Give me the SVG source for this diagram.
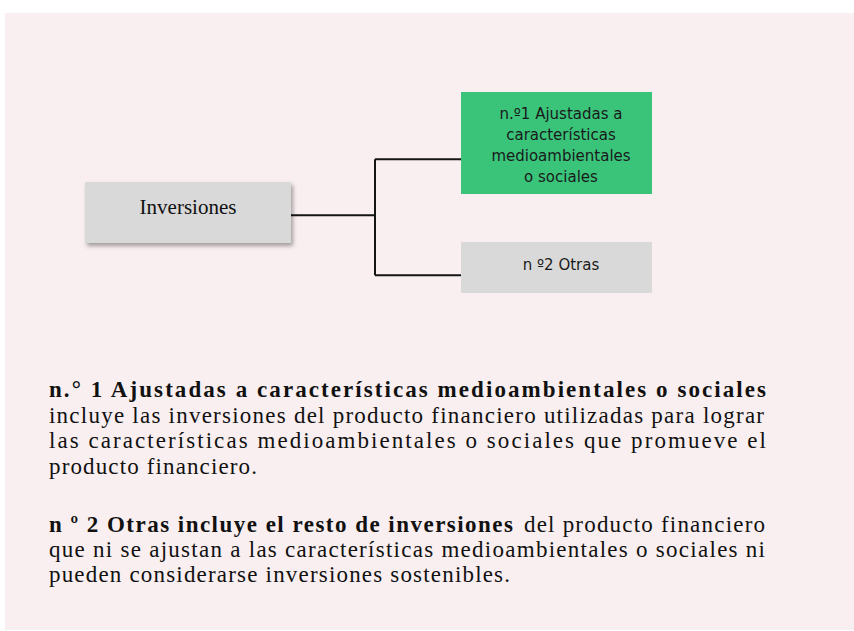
<svg xmlns="http://www.w3.org/2000/svg" width="854" height="631" viewBox="0 0 854 631">
<style>
.sans{font-family:"DejaVu Sans","Verdana",sans-serif;font-size:15px;fill:#1a1a1a;text-anchor:middle}
.serif{font-family:"Liberation Serif","Times New Roman",serif;font-size:21px;fill:#111}
.body{font-size:23px}
.b{font-weight:bold}
.conn{stroke:#151515;stroke-width:2;fill:none}
</style>
<defs>
<filter id="sh" x="-10%" y="-20%" width="125%" height="150%">
<feDropShadow dx="2" dy="3" stdDeviation="2" flood-color="#000" flood-opacity="0.35"/>
</filter>
</defs>
<rect x="0" y="0" width="854" height="631" fill="#ffffff"/>
<rect x="5" y="13" width="849" height="617" fill="#f9eff0"/>
<g id="connectors">
<path class="conn" d="M291 215.3 H375 M375 159.3 V275.3 M375 159.3 H461 M375 275.3 H461"/>
</g>
<g id="node-inversiones">
<rect x="85" y="182" width="206" height="61" fill="#d9d9d9" filter="url(#sh)"/>
<text class="serif" x="188" y="214" text-anchor="middle">Inversiones</text>
</g>
<g id="node-n1">
<rect x="461" y="92" width="191" height="102" fill="#39c47a"/>
<text class="sans" x="561" y="119.3">n.º1 Ajustadas a</text>
<text class="sans" x="561" y="140">características</text>
<text class="sans" x="561" y="161">medioambientales</text>
<text class="sans" x="561" y="181.7">o sociales</text>
</g>
<g id="node-n2">
<rect x="461" y="242" width="191" height="51" fill="#d9d9d9"/>
<text class="sans" x="561" y="270">n º2 Otras</text>
</g>
<g id="text-para1">
<text class="serif body b" x="49" y="397" textLength="717" lengthAdjust="spacing">n.° 1 Ajustadas a características medioambientales o sociales</text>
<text class="serif body" x="49" y="422.5" textLength="715" lengthAdjust="spacing">incluye las inversiones del producto financiero utilizadas para lograr</text>
<text class="serif body" x="49" y="448" textLength="717" lengthAdjust="spacing">las características medioambientales o sociales que promueve el</text>
<text class="serif body" x="49" y="473.5" textLength="208" lengthAdjust="spacing">producto financiero.</text>
</g>
<g id="text-para2">
<text class="serif body b" x="49" y="531.5" textLength="464" lengthAdjust="spacing">n º 2 Otras incluye el resto de inversiones</text>
<text class="serif body" x="524" y="531.5" textLength="241" lengthAdjust="spacing">del producto financiero</text>
<text class="serif body" x="49" y="556.5" textLength="716" lengthAdjust="spacing">que ni se ajustan a las características medioambientales o sociales ni</text>
<text class="serif body" x="49" y="581.5" textLength="461" lengthAdjust="spacing">pueden considerarse inversiones sostenibles.</text>
</g>
</svg>
